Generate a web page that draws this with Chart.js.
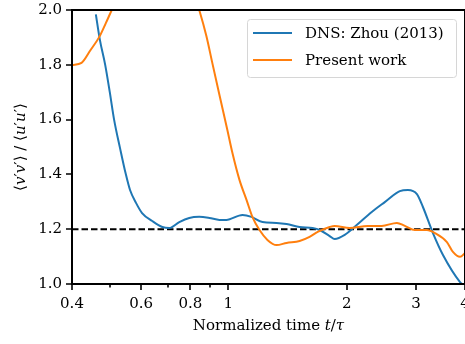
<!DOCTYPE html>
<html>
<head>
<meta charset="utf-8">
<script src="https://cdn.jsdelivr.net/npm/chart.js@4.4.1/dist/chart.umd.min.js"></script>
<style>
html,body{margin:0;padding:0;background:#fff;}
#wrap{width:465px;height:344px;}
</style>
</head>
<body>
<div id="wrap"><canvas id="c" width="465" height="344"></canvas></div>
<script>
// ---- data ----
const dnsT = [0.460,0.471,0.486,0.499,0.512,0.530,0.548,0.562,0.582,0.603,0.640,0.679,0.707,0.750,0.795,0.843,0.895,0.949,0.988,1.086,1.145,1.221,1.326,1.406,1.518,1.638,1.707,1.810,1.864,1.977,2.121,2.316,2.500,2.731,2.863,3.018,3.126,3.315,3.516,3.885,3.931];
const dnsV = [1.984,1.891,1.799,1.701,1.599,1.496,1.402,1.343,1.296,1.259,1.230,1.208,1.204,1.226,1.241,1.245,1.241,1.234,1.234,1.252,1.245,1.226,1.223,1.219,1.208,1.204,1.197,1.175,1.164,1.179,1.215,1.263,1.299,1.339,1.343,1.328,1.281,1.186,1.106,1.007,1.000];
const presentT = [0.400,0.423,0.446,0.469,0.488,0.505,0.527,0.559,0.600,0.648,0.699,0.750,0.795,0.819,0.843,0.879,0.910,0.949,0.994,1.024,1.067,1.112,1.151,1.200,1.257,1.326,1.406,1.518,1.609,1.687,1.810,1.864,2.036,2.262,2.456,2.684,2.812,2.983,3.200,3.354,3.598,3.727,3.885,4.000];
const presentV = [1.799,1.807,1.854,1.901,1.953,2.000,2.055,2.117,2.175,2.208,2.204,2.172,2.106,2.055,2.000,1.905,1.807,1.690,1.562,1.478,1.380,1.307,1.245,1.197,1.161,1.142,1.150,1.157,1.172,1.190,1.208,1.212,1.204,1.212,1.212,1.223,1.212,1.197,1.197,1.186,1.153,1.117,1.099,1.113];
const refT = [0.4, 4];
const refV = [1.2, 1.2];
const seriesLabels = ['DNS: Zhou (2013)', 'Present work'];
const xMajorTicks = [0.4, 0.6, 0.8, 1, 2, 3, 4];
const xMajorLabels = ['0.4', '0.6', '0.8', '1', '2', '3', '4'];
const xMinorTicks = [0.5, 0.7, 0.9];
const yTicks = [1.0, 1.2, 1.4, 1.6, 1.8, 2.0];
const yTickLabels = ['1.0', '1.2', '1.4', '1.6', '1.8', '2.0'];

const BLUE = '#1f77b4', ORANGE = '#ff7f0e';
const FONT = '"DejaVu Serif", "Liberation Serif", serif';
const FS = 15;

function pts(t, v) { return t.map((x, i) => ({x: x, y: v[i]})); }

function drawRich(ctx, parts, cx, cy) {
  let total = 0;
  parts.forEach(p => { ctx.font = (p.it ? 'italic ' : '') + FS + 'px ' + FONT; p.w = ctx.measureText(p.s).width; total += p.w; });
  let x = cx - total / 2;
  ctx.textAlign = 'left';
  ctx.textBaseline = 'middle';
  parts.forEach(p => { ctx.font = (p.it ? 'italic ' : '') + FS + 'px ' + FONT; ctx.fillText(p.s, x, cy); x += p.w; });
}

const axesPlugin = {
  id: 'axesPlugin',
  afterDatasetsDraw(chart) {
    const ctx = chart.ctx, a = chart.chartArea;
    const xs = chart.scales.x, ys = chart.scales.y;
    ctx.save();
    ctx.fillStyle = '#000';
    ctx.strokeStyle = '#000';
    // spines
    ctx.lineWidth = 2;
    ctx.beginPath();
    ctx.moveTo(a.left, a.top); ctx.lineTo(a.left, a.bottom);
    ctx.moveTo(a.left - 1, a.bottom); ctx.lineTo(a.right, a.bottom);
    ctx.moveTo(a.left - 1, a.top); ctx.lineTo(a.right, a.top);
    ctx.moveTo(a.right, a.top); ctx.lineTo(a.right, a.bottom);
    ctx.stroke();
    // ticks
    ctx.lineWidth = 1.6;
    ctx.beginPath();
    xMajorTicks.forEach(v => { const px = Math.round(xs.getPixelForValue(v)); ctx.moveTo(px, a.bottom); ctx.lineTo(px, a.bottom + 6); });
    xMinorTicks.forEach(v => { const px = Math.round(xs.getPixelForValue(v)); ctx.moveTo(px, a.bottom); ctx.lineTo(px, a.bottom + 3.5); });
    yTicks.forEach(v => { const py = Math.round(ys.getPixelForValue(v)); ctx.moveTo(a.left, py); ctx.lineTo(a.left - 6, py); });
    ctx.stroke();
    // tick labels
    ctx.font = FS + 'px ' + FONT;
    ctx.textAlign = 'center';
    ctx.textBaseline = 'middle';
    xMajorTicks.forEach((v, i) => ctx.fillText(xMajorLabels[i], xs.getPixelForValue(v), a.bottom + 20));
    ctx.textAlign = 'right';
    yTicks.forEach((v, i) => ctx.fillText(yTickLabels[i], a.left - 10, ys.getPixelForValue(v)));
    // x title
    drawRich(ctx, [{s: 'Normalized time '}, {s: 't', it: true}, {s: '/'}, {s: 'τ', it: true}], (a.left + a.right) / 2, 326);
    // y title
    ctx.save();
    ctx.translate(21, (a.top + a.bottom) / 2);
    ctx.rotate(-Math.PI / 2);
    drawRich(ctx, [{s: '⟨'}, {s: 'v', it: true}, {s: '′'}, {s: 'v', it: true}, {s: '′⟩ / ⟨'}, {s: 'u', it: true}, {s: '′'}, {s: 'u', it: true}, {s: '′⟩'}], 0, 0);
    ctx.restore();
    // legend
    const lx = 247.5, ly = 19.5, lw = 209, lh = 58, r = 3;
    ctx.beginPath();
    ctx.roundRect(lx, ly, lw, lh, r);
    ctx.fillStyle = 'rgba(255,255,255,0.85)';
    ctx.fill();
    ctx.strokeStyle = '#d6d6d6';
    ctx.lineWidth = 1;
    ctx.stroke();
    const rows = [33, 60];
    const cols = [BLUE, ORANGE];
    ctx.lineWidth = 2;
    rows.forEach((y, i) => {
      ctx.strokeStyle = cols[i];
      ctx.beginPath(); ctx.moveTo(253, y); ctx.lineTo(292, y); ctx.stroke();
      ctx.fillStyle = '#000';
      ctx.font = FS + 'px ' + FONT;
      ctx.textAlign = 'left';
      ctx.textBaseline = 'middle';
      ctx.fillText(seriesLabels[i], 305, y + 1);
    });
    ctx.restore();
  }
};

new Chart(document.getElementById('c'), {
  type: 'line',
  data: {
    datasets: [
      {label: 'ref', data: pts(refT, refV), borderColor: '#000', borderWidth: 2, borderDash: [6.5, 3], pointRadius: 0, clip: 0, order: 3},
      {label: seriesLabels[0], data: pts(dnsT, dnsV), borderColor: BLUE, borderWidth: 2, pointRadius: 0, cubicInterpolationMode: 'monotone', clip: 0, order: 2},
      {label: seriesLabels[1], data: pts(presentT, presentV), borderColor: ORANGE, borderWidth: 2, pointRadius: 0, cubicInterpolationMode: 'monotone', clip: 0, order: 1}
    ]
  },
  options: {
    responsive: false,
    animation: false,
    events: [],
    layout: {padding: {left: 72, top: 10, right: 0, bottom: 60}},
    plugins: {legend: {display: false}, tooltip: {enabled: false}},
    scales: {
      x: {type: 'logarithmic', min: 0.4, max: 4, display: false},
      y: {type: 'linear', min: 1.0, max: 2.0, display: false}
    }
  },
  plugins: [axesPlugin]
});
</script>
</body>
</html>
